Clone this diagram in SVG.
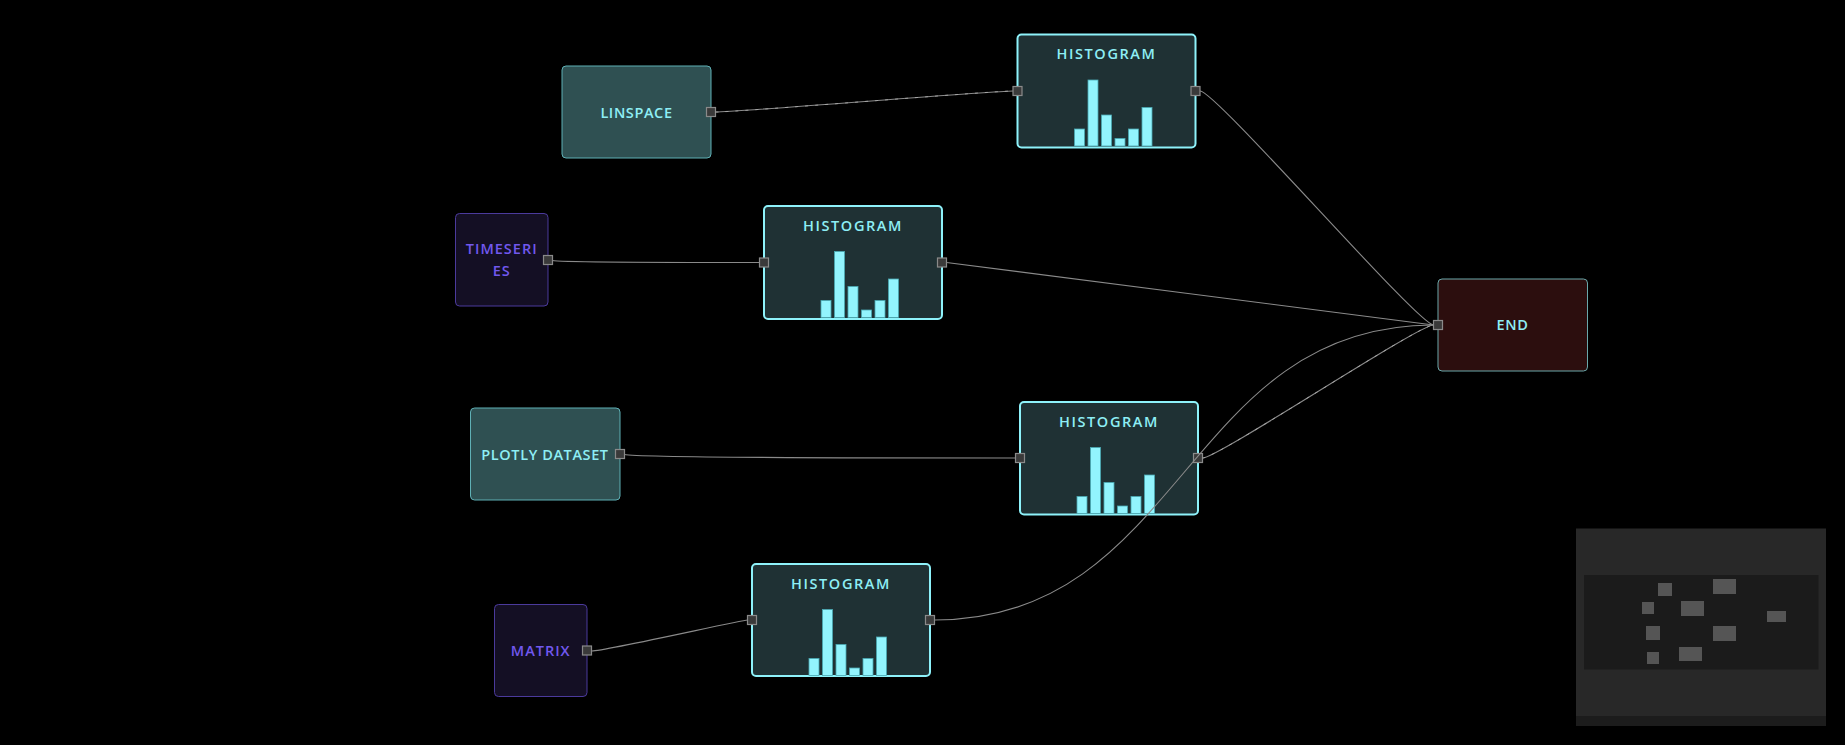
<svg xmlns="http://www.w3.org/2000/svg" width="1845" height="745" viewBox="0 0 1845 745">
  <defs>
    <style>
      .label { font-family: "Open Sans", "Noto Sans", "Liberation Sans", sans-serif; font-weight: 600; font-size: 14.5px; text-anchor: middle; }
      .src-teal { fill: #2f5052; stroke: #5fb0b5; stroke-width: 1; }
      .src-violet { fill: #140f24; stroke: #4b3a9c; stroke-width: 1; }
      .hist { fill: #1f3134; stroke: #8ef2fa; stroke-width: 2; }
      .end { fill: #2c0e0e; stroke: #6aa8aa; stroke-width: 1; }
      .txt-cyan { fill: #8eeef5; letter-spacing: 0.6px; }
      .txt-violet { fill: #7158ee; letter-spacing: 1px; }
      .title { fill: #8eeef5; letter-spacing: 1.6px; }
      .bar { fill: #92f4fd; stroke: #4aa9b2; stroke-width: 0.8; }
      .port { fill: #3a3a3a; stroke: #8a8a8a; stroke-width: 1.2; }
      .wire { fill: none; stroke: #8a8a8a; stroke-width: 1.1; }
      .wire-dash { fill: none; stroke: #b0b0b0; stroke-width: 0.8; stroke-dasharray: 3 7; }
      .mini { fill: #555555; }
    </style>
    <!-- histogram glyph: six bars, aligned to the bottom of a 178x113 card -->
    <g id="bars">
      <rect class="bar" x="57" y="94.5" width="10" height="17"/>
      <rect class="bar" x="70.5" y="45.5" width="10" height="66"/>
      <rect class="bar" x="84" y="80.5" width="10" height="31"/>
      <rect class="bar" x="97.5" y="104" width="10" height="7.5"/>
      <rect class="bar" x="111" y="94.5" width="10" height="17"/>
      <rect class="bar" x="124.5" y="73" width="10" height="38.5"/>
    </g>
    <rect id="portShape" class="port" x="-4.5" y="-4.5" width="9" height="9"/>
  </defs>

  <rect x="0" y="0" width="1845" height="745" fill="#000000"/>

  <!-- source nodes -->
  <g id="linspace">
    <rect class="src-teal" x="562" y="66" width="149" height="92" rx="4"/>
    <text class="label txt-cyan" x="636.5" y="117.5">LINSPACE</text>
    <use href="#portShape" x="711" y="112"/>
  </g>

  <g id="timeseries">
    <rect class="src-violet" x="455.5" y="213.5" width="92.5" height="92.5" rx="4"/>
    <text class="label txt-violet" x="501.7" y="254">TIMESERI</text>
    <text class="label txt-violet" x="501.7" y="276">ES</text>
    <use href="#portShape" x="548" y="260"/>
  </g>

  <g id="plotly-dataset">
    <rect class="src-teal" x="470.5" y="408" width="149.5" height="92" rx="4"/>
    <text class="label txt-cyan" x="545" y="459.5">PLOTLY DATASET</text>
    <use href="#portShape" x="620" y="454"/>
  </g>

  <g id="matrix">
    <rect class="src-violet" x="494.5" y="604.5" width="92.5" height="92" rx="4"/>
    <text class="label txt-violet" x="540.7" y="656">MATRIX</text>
    <use href="#portShape" x="587" y="650.5"/>
  </g>

  <!-- histogram nodes -->
  <g id="histogram-1" transform="translate(1017.5,34.5)">
    <rect class="hist" x="0" y="0" width="178" height="113" rx="4"/>
    <text class="label title" x="89" y="24.5">HISTOGRAM</text>
    <use href="#bars"/>
    <use href="#portShape" x="0" y="56.5"/>
    <use href="#portShape" x="178" y="56.5"/>
  </g>

  <g id="histogram-2" transform="translate(764,206)">
    <rect class="hist" x="0" y="0" width="178" height="113" rx="4"/>
    <text class="label title" x="89" y="24.5">HISTOGRAM</text>
    <use href="#bars"/>
    <use href="#portShape" x="0" y="56.5"/>
    <use href="#portShape" x="178" y="56.5"/>
  </g>

  <g id="histogram-3" transform="translate(1020,402)">
    <rect class="hist" x="0" y="0" width="178" height="112.5" rx="4"/>
    <text class="label title" x="89" y="24.5">HISTOGRAM</text>
    <use href="#bars"/>
    <use href="#portShape" x="0" y="56"/>
    <use href="#portShape" x="178" y="56"/>
  </g>

  <g id="histogram-4" transform="translate(752,564)">
    <rect class="hist" x="0" y="0" width="178" height="112" rx="4"/>
    <text class="label title" x="89" y="24.5">HISTOGRAM</text>
    <use href="#bars"/>
    <use href="#portShape" x="0" y="56"/>
    <use href="#portShape" x="178" y="56"/>
  </g>

  <!-- sink -->
  <g id="end">
    <rect class="end" x="1438" y="279" width="149.5" height="92" rx="4"/>
    <text class="label txt-cyan" x="1512.5" y="329.5">END</text>
    <use href="#portShape" x="1438" y="325"/>
  </g>

  <!-- connectors: painted over the cards, trimmed to the port edges -->
  <g id="connectors">
    <path class="wire" d="M715.5,112 C740,112 990,91 1013,91"/>
    <path class="wire-dash" d="M715.5,112 C740,112 990,91 1013,91"/>
    <path class="wire" d="M552.5,260.5 C560,262.5 754,262.5 759.5,262.5"/>
    <path class="wire" d="M624.5,454.5 C640,458 1000,458 1015.5,458"/>
    <path class="wire" d="M591.5,651 C600,652 742,620 747.5,620"/>
    <path class="wire" d="M1200,91 C1216,91 1418,325 1433.5,325"/>
    <path class="wire" d="M946.5,262.5 C952,262.5 1428,325 1433.5,325"/>
    <path class="wire" d="M1202.5,458 C1218,458 1418,325 1433.5,325"/>
    <path class="wire-dash" d="M1202.5,458 C1218,458 1418,325 1433.5,325"/>
    <path class="wire" d="M934.5,620 C1184,620 1184,325 1433.5,325"/>
  </g>

  <!-- overview map -->
  <g id="minimap">
    <rect x="1575" y="527.5" width="252" height="199.5" fill="#000000"/>
    <rect x="1576" y="528.5" width="250" height="197.5" fill="#282828"/>
    <rect x="1576" y="716" width="250" height="10" fill="#1c1c1c"/>
    <rect x="1584" y="575" width="234.5" height="94.5" fill="#1b1b1b"/>
    <rect class="mini" x="1658" y="583" width="14" height="13"/>
    <rect class="mini" x="1713" y="579" width="23" height="15"/>
    <rect class="mini" x="1642" y="602" width="12" height="12"/>
    <rect class="mini" x="1681" y="601" width="23" height="15"/>
    <rect class="mini" x="1767" y="611" width="19" height="11"/>
    <rect class="mini" x="1646" y="626" width="14" height="14"/>
    <rect class="mini" x="1713" y="626" width="23" height="15"/>
    <rect class="mini" x="1647" y="652" width="12" height="12"/>
    <rect class="mini" x="1679" y="647" width="23" height="14"/>
  </g>
</svg>
